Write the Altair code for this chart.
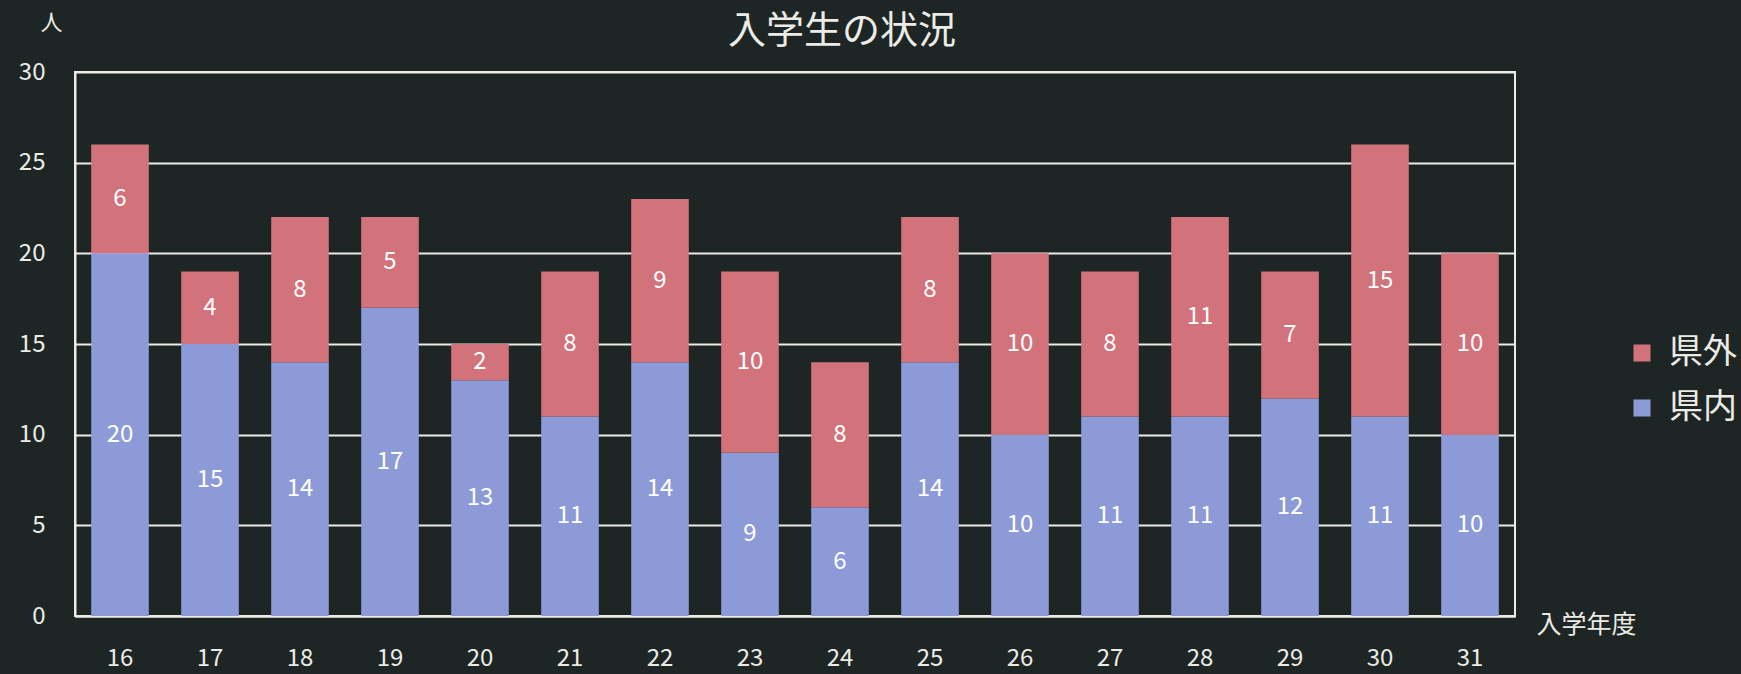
import altair as alt
import pandas as pd

# 入学年度ごとの入学生数（県内・県外）
years = ["16", "17", "18", "19", "20", "21", "22", "23",
         "24", "25", "26", "27", "28", "29", "30", "31"]
kennai = [20, 15, 14, 17, 13, 11, 14, 9, 6, 14, 10, 11, 11, 12, 11, 10]
kengai = [6, 4, 8, 5, 2, 8, 9, 10, 8, 8, 10, 8, 11, 7, 15, 10]

groups = ["県外", "県内"]
colors = ["#d2727b", "#8c9bd8"]
stack_rank = {"県内": 0, "県外": 1}

rows = []
for y, a, b in zip(years, kennai, kengai):
    rows.append({"年度": y, "区分": "県内", "人数": a, "rank": stack_rank["県内"]})
    rows.append({"年度": y, "区分": "県外", "人数": b, "rank": stack_rank["県外"]})
df = pd.DataFrame(rows)

FONT = "Noto Sans CJK JP"
TXT = "#ecebe6"
BG = "#1e2625"

x_enc = alt.X(
    "年度:N",
    sort=years,
    scale=alt.Scale(paddingInner=0.36, paddingOuter=0.18),
    axis=alt.Axis(
        title="入学年度", labelAngle=0, ticks=False, labelPadding=30,
        labelFontSize=24, labelColor=TXT, labelFont=FONT,
        domainColor=TXT, domainWidth=2,
        titleFontSize=25, titleFontWeight="normal", titleColor=TXT, titleFont=FONT,
        titleX=1511, titleY=8, titleAlign="center", titleBaseline="middle",
    ),
)

bars = alt.Chart(df).mark_bar().encode(
    x=x_enc,
    y=alt.Y(
        "sum(人数):Q",
        stack="zero",
        scale=alt.Scale(domain=[0, 30]),
        axis=alt.Axis(
            title="人", values=[0, 5, 10, 15, 20, 25, 30], ticks=False,
            labelPadding=30, labelFontSize=24, labelColor=TXT, labelFont=FONT,
            domainColor=TXT, domainWidth=2,
            grid=True, gridColor=TXT, gridWidth=2,
            titleAngle=0, titleX=-24, titleY=-50, titleAlign="center",
            titleBaseline="middle", titleFontSize=22, titleFontWeight="normal",
            titleColor=TXT, titleFont=FONT,
        ),
    ),
    color=alt.Color(
        "区分:N",
        scale=alt.Scale(domain=groups, range=colors),
        legend=alt.Legend(
            title=None, orient="none", legendX=1550, legendY=264,
            symbolType="square", symbolSize=290, symbolStrokeWidth=0,
            labelFontSize=34, labelColor=TXT, labelFont=FONT,
            labelOffset=10, rowPadding=21,
        ),
    ),
    order=alt.Order("rank:Q", sort="ascending"),
)

labels = (
    alt.Chart(df)
    .transform_stack(
        stack="人数", groupby=["年度"], as_=["y0", "y1"],
        sort=[alt.SortField("rank", order="ascending")],
    )
    .transform_calculate(mid="(datum.y0 + datum.y1) / 2")
    .mark_text(fontSize=24, color="#ffffff", font=FONT, baseline="middle")
    .encode(
        x=alt.X("年度:N", sort=years),
        y=alt.Y("mid:Q"),
        text=alt.Text("人数:Q"),
    )
)

chart = (
    alt.layer(bars, labels)
    .properties(
        width=1440,
        height=544,
        background=BG,
        padding={"left": 75, "top": 72, "right": 226, "bottom": 58},
        autosize=alt.AutoSizeParams(type="none"),
        title=alt.TitleParams(
            "入学生の状況", anchor="middle", dx=47, offset=-40,
            fontSize=38, fontWeight="normal", color=TXT, font=FONT,
        ),
    )
    .configure_view(stroke=TXT, strokeWidth=2)
)

chart.save("out.html", embed_options={"renderer": "svg", "actions": False})
